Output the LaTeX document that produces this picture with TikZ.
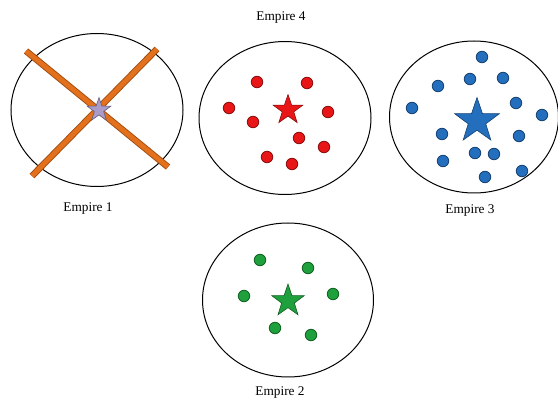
\documentclass[tikz,border=0pt]{standalone}
\usepackage{fontspec}
\setmainfont{Liberation Serif}
\usepackage{xcolor}
\usetikzlibrary{shapes.geometric}
\definecolor{cRed}{RGB}{232,22,22}
\definecolor{cRedDk}{RGB}{150,10,10}
\definecolor{cBlue}{RGB}{36,110,190}
\definecolor{cBlueDk}{RGB}{25,65,120}
\definecolor{cGreen}{RGB}{30,160,60}
\definecolor{cGreenDk}{RGB}{15,100,35}
\definecolor{cLilac}{RGB}{170,155,200}
\definecolor{cLilacDk}{RGB}{130,115,165}
\definecolor{cSpear}{RGB}{226,112,28}
\definecolor{cSpearDk}{RGB}{160,75,15}

\begin{document}
\begin{tikzpicture}[x=1pt, y=-1pt, font=\fontsize{13.3}{15}\selectfont,
					empire/.style={ellipse, draw=black, line width=1pt, minimum width=172, minimum height=153, inner sep=0pt},
					colony/.style={circle, draw=#1!60!black, fill=#1, line width=0.8pt, minimum size=11.5, inner sep=0pt},
					ruler/.style={star, star points=5, star point ratio=2.55, draw=#1!60!black, fill=#1, line width=0.6pt, inner sep=0pt},
					spear/.style={draw=cSpearDk, double=cSpear, double distance=4.8pt, line width=0.9pt}]
					\useasboundingbox (0,0) rectangle (558,401);
					\begin{scope}[shift={(97,110)}]
						\node[empire] (e1) at (0,0) {};
						\draw[spear] (-71,-59) -- (71,57); \draw[spear] (60,-61) -- (-65,66);
						\node[ruler=cLilac, minimum size=25] (s1) at (2,0) {};
						\node (l1) at (-9,99) {Empire 1};
					\end{scope}
					\begin{scope}[shift={(285,118)}]
						\node[empire] (e4) at (0,0) {};
						\node[ruler=cRed, minimum size=31] (s4) at (3,-8) {};
						\foreach \p [count=\i] in {(-28,-36),(22,-35),(-56,-10),(-32,4),(43,-6),(14,20),(39,29),(-18,39),(7,46)}
							\node[colony=cRed] (c4-\i) at \p {};
						\node (l4) at (-4,-100) {Empire 4};
					\end{scope}
					\begin{scope}[shift={(474,117)}]
						\node[empire, minimum width=169, minimum height=152] (e3) at (0,0) {};
						\node[ruler=cBlue, minimum size=47] (s3) at (3,4) {};
						\foreach \p [count=\i] in {(8,-60),(-36,-31),(-4,-38),(29,-39),(-62,-9),(42,-14),(68,-2),(-32,17),(45,19),(1,36),(20,37),(-31,44),(48,54),(11,60)}
							\node[colony=cBlue] (c3-\i) at \p {};
						\node (l3) at (-4,94) {Empire 3};
					\end{scope}
					\begin{scope}[shift={(288,300)}]
						\node[empire, minimum width=171, minimum height=154] (e2) at (0,0) {};
						\node[ruler=cGreen, minimum size=34] (s2) at (0,1) {};
						\foreach \p [count=\i] in {(-28,-40),(20,-32),(-44,-4),(45,-6),(-13,28),(23,35)}
							\node[colony=cGreen] (c2-\i) at \p {};
						\node (l2) at (-8,93) {Empire 2};
					\end{scope}
				\end{tikzpicture}
\end{document}
